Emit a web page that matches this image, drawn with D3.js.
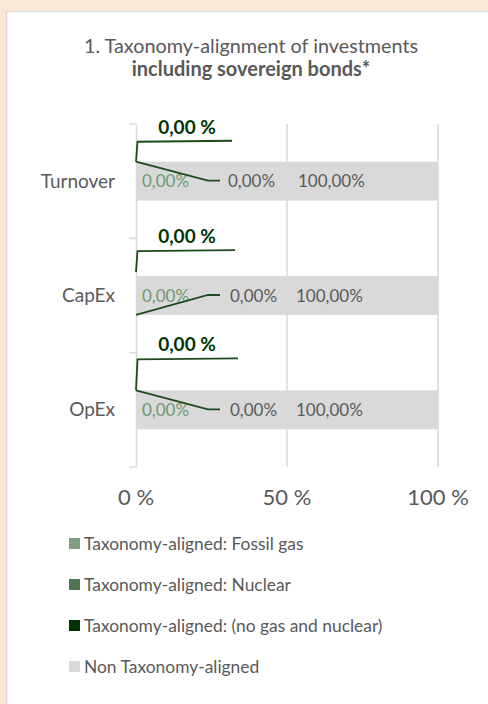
<!DOCTYPE html>
<html>
<head>
<meta charset="utf-8">
<script src="https://cdn.jsdelivr.net/npm/d3@7"></script>
<style>
  body { margin: 0; background: #fbe9d8; }
  svg { display: block; font-family: Lato, "Open Sans", sans-serif; }
</style>
</head>
<body>
<svg id="chart" width="488" height="704"></svg>
<script>
// chart values
const categories = ["Turnover", "CapEx", "OpEx"];
const seriesNames = ["Taxonomy-aligned: Fossil gas", "Taxonomy-aligned: Nuclear",
  "Taxonomy-aligned: (no gas and nuclear)", "Non Taxonomy-aligned"];
const fossilGas = [0, 0, 0];
const nuclear = [0, 0, 0];
const aligned = [0, 0, 0];
const nonAligned = [100, 100, 100];
const xTicks = [0, 50, 100];

const colors = ["#7f9f80", "#4e7651", "#003300", "#d9d9d9"];
const textGray = "#595959";
const leaderColor = "#1d4a1d";

var svg = d3.select("#chart");

// white card
svg.append("rect")
  .attr("x", 6.5).attr("y", 11.5)
  .attr("width", 500).attr("height", 720)
  .attr("fill", "#fff")
  .attr("stroke", "#d9d9d9")
  .attr("stroke-width", 1.5);

// title
svg.append("text")
  .attr("x", 251).attr("y", 53)
  .attr("text-anchor", "middle")
  .attr("fill", textGray)
  .style("font-size", "19.8px")
  .text("1. Taxonomy-alignment of investments");
svg.append("text")
  .attr("x", 251).attr("y", 76)
  .attr("text-anchor", "middle")
  .attr("fill", textGray)
  .style("font-size", "20px")
  .style("font-weight", "bold")
  .text("including sovereign bonds*");

var rows = categories.map((c, i) => ({
  cat: c, gas: fossilGas[i], nuc: nuclear[i], al: aligned[i], non: nonAligned[i]
}));
var keys = ["gas", "nuc", "al", "non"];
var stacked = d3.stack().keys(keys)(rows);

var x = d3.scaleLinear().domain([0, 100]).range([136, 438]);
var y = d3.scaleBand().domain(categories).range([124, 467]).paddingInner(0.66).paddingOuter(0.33);
var yOuter = d3.scaleBand().domain(categories).range([124, 467]);

// gridlines
svg.append("g")
  .selectAll("line")
  .data(xTicks.slice(1))
  .join("line")
  .attr("x1", d => x(d)).attr("x2", d => x(d))
  .attr("y1", 124).attr("y2", 467)
  .attr("stroke", "#d9d9d9")
  .attr("stroke-width", 1.5);

// category axis
var yAxis = svg.append("g")
  .attr("transform", `translate(${x(0)},0)`)
  .call(d3.axisLeft(yOuter).tickSize(0).tickFormat(""));
yAxis.select(".domain").attr("stroke", "#d9d9d9").attr("stroke-width", 1.5);
yAxis.selectAll(".bt")
  .data([124].concat(categories.map(c => yOuter(c) + yOuter.bandwidth())))
  .join("line")
  .attr("x1", -7).attr("x2", 0)
  .attr("y1", d => d).attr("y2", d => d)
  .attr("stroke", "#d9d9d9")
  .attr("stroke-width", 1.5);

svg.append("g")
  .selectAll("text")
  .data(categories)
  .join("text")
  .attr("x", 115)
  .attr("y", d => y(d) + y.bandwidth() / 2)
  .attr("dy", "0.34em")
  .attr("text-anchor", "end")
  .attr("fill", textGray)
  .style("font-size", "19px")
  .text(d => d);

// bars
svg.append("g")
  .selectAll("g")
  .data(stacked)
  .join("g")
  .attr("fill", (d, i) => colors[i])
  .selectAll("rect")
  .data(d => d)
  .join("rect")
  .attr("x", d => x(d[0]))
  .attr("width", d => x(d[1]) - x(d[0]))
  .attr("y", d => y(d.data.cat))
  .attr("height", y.bandwidth());

var fmt = v => d3.format(".2f")(v).replace(".", ",");

// labels inside the bars
var lab = svg.append("g").style("font-size", "17px");
lab.selectAll(".gas")
  .data(rows)
  .join("text")
  .attr("x", d => x(0) + 6)
  .attr("y", d => y(d.cat) + y.bandwidth() / 2)
  .attr("dy", "0.36em")
  .attr("fill", "#6f9870")
  .text(d => fmt(d.gas) + "%");
lab.selectAll(".non")
  .data(rows)
  .join("text")
  .attr("x", (d, i) => x(0) + (i === 0 ? 162 : 160))
  .attr("y", d => y(d.cat) + y.bandwidth() / 2)
  .attr("dy", "0.36em")
  .attr("fill", textGray)
  .text(d => fmt(d.non) + "%");

// nuclear label with leader line
var nucFromBottom = [false, true, false];
lab.selectAll(".nuc")
  .data(rows)
  .join("text")
  .attr("x", (d, i) => x(0) + (i === 0 ? 92 : 94))
  .attr("y", d => y(d.cat) + y.bandwidth() / 2)
  .attr("dy", "0.36em")
  .attr("fill", textGray)
  .text(d => fmt(d.nuc) + "%");
svg.append("g")
  .selectAll("path")
  .data(rows)
  .join("path")
  .attr("fill", "none")
  .attr("stroke", leaderColor)
  .attr("stroke-width", 1.8)
  .attr("d", (d, i) => {
    var y0 = nucFromBottom[i] ? y(d.cat) + y.bandwidth() : y(d.cat);
    var mid = y(d.cat) + y.bandwidth() / 2 - 0.5;
    return `M${x(d.nuc)},${y0}L${x(0) + 72},${mid}L${x(0) + 84},${mid}`;
  });

// aligned (no gas / nuclear) label above with leader
var lift = [20, 25, 31];
svg.append("g")
  .selectAll("path")
  .data(rows)
  .join("path")
  .attr("fill", "none")
  .attr("stroke", leaderColor)
  .attr("stroke-width", 1.8)
  .attr("d", (d, i) => {
    var y0 = y(d.cat);
    var yl = y0 - lift[i];
    return `M${x(d.al)},${y0 - (i === 1 ? 4 : 0)}L${x(d.al) + 1.5},${yl}L${x(0) + 96 + i * 3},${yl - 1}`;
  });
svg.append("g")
  .selectAll("text")
  .data(rows)
  .join("text")
  .attr("x", x(0) + 51)
  .attr("y", (d, i) => y(d.cat) - lift[i] - 8)
  .attr("text-anchor", "middle")
  .attr("fill", "#003300")
  .style("font-size", "19px")
  .style("font-weight", "bold")
  .text(d => fmt(d.al) + " %");

// x axis labels
svg.append("g")
  .selectAll("text")
  .data(xTicks)
  .join("text")
  .attr("x", d => x(d))
  .attr("y", 505)
  .attr("text-anchor", "middle")
  .attr("fill", textGray)
  .style("font-size", "22px")
  .text(d => d + " %");

// legend
var leg = svg.append("g")
  .selectAll("g")
  .data(seriesNames)
  .join("g")
  .attr("transform", (d, i) => `translate(69,${550 + i * 41})`);
leg.append("rect")
  .attr("x", 0).attr("y", -12)
  .attr("width", 11).attr("height", 11)
  .attr("fill", (d, i) => colors[i]);
leg.append("text")
  .attr("x", 15).attr("y", 0)
  .attr("fill", textGray)
  .style("font-size", "17.4px")
  .text(d => d);
</script>
</body>
</html>
